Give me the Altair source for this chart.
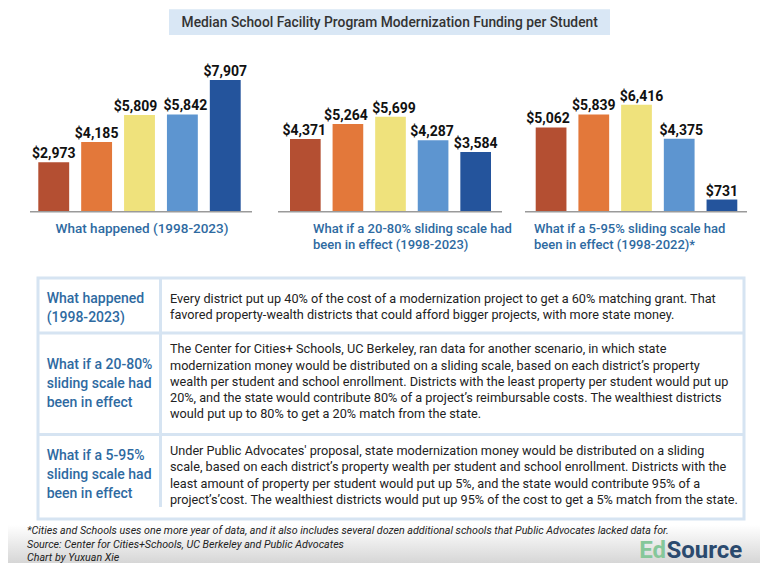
import altair as alt
import pandas as pd

# ---------------- data ----------------
quintiles = ["Q1", "Q2", "Q3", "Q4", "Q5"]
happened = [2973, 4185, 5809, 5842, 7907]
scale_20_80 = [4371, 5264, 5699, 4287, 3584]
scale_5_95 = [5062, 5839, 6416, 4375, 731]
bar_colors = ["#b44f32", "#e3783a", "#efe27c", "#5d95d0", "#24549c"]

chart_title = "Median School Facility Program Modernization Funding per Student"
panel_titles = [
    ["What happened (1998-2023)"],
    ["What if a 20-80% sliding scale had", "been in effect (1998-2023)"],
    ["What if a 5-95% sliding scale had", "been in effect (1998-2022)*"],
]
row_labels = [
    ["What happened", "(1998-2023)"],
    ["What if a 20-80%", "sliding scale had", "been in effect"],
    ["What if a 5-95%", "sliding scale had", "been in effect"],
]
row_bodies = [
    ["Every district put up 40% of the cost of a modernization project to get a 60% matching grant. That",
     "favored property-wealth districts that could afford bigger projects, with more state money."],
    ["The Center for Cities+ Schools, UC Berkeley, ran data for another scenario, in which state",
     "modernization money would be distributed on a sliding scale, based on each district\u2019s property",
     "wealth per student and school enrollment. Districts with the least property per student would put up",
     "20%, and the state would contribute 80% of a project\u2019s reimbursable costs. The wealthiest districts",
     "would put up to 80% to get a 20% match from the state."],
    ["Under Public Advocates' proposal, state modernization money would be distributed on a sliding",
     "scale, based on each district\u2019s property wealth per student and school enrollment. Districts with the",
     "least amount of property per student would put up 5%, and the state would contribute 95% of a",
     "project\u2019s\u2019cost. The wealthiest districts would put up 95% of the cost to get a 5% match from the state."],
]
footnotes = [
    "*Cities and Schools uses one more year of data, and it also includes several dozen additional schools that Public Advocates lacked data for.",
    "Source: Center for Cities+Schools, UC Berkeley and Public Advocates",
    "Chart by Yuxuan Xie",
]

# ---------------- style / layout ----------------
FONT = "Roboto, sans-serif"
BLUE_TXT = "#2e6aa1"
BORDER = "#d6e4f2"
W, H = 752, 555
Y_RANGE = [203.7, 72]
panel_ranges = [[30.3, 232.7], [282, 483], [527.7, 729.3]]
axis_spans = [[22, 244], [270, 494], [517, 739]]
title_pos = [(134, "center", 13.5), (305, "left", 13), (526, "left", 13)]
# small horizontal nudges of the value labels (as in the original, to avoid collisions)
label_nudges = [[0, 0, -4, 3, 0], [-1, -2, 3.5, -1, 0], [-3, 0, 5, 2, 0]]

one = pd.DataFrame({"k": [0]})


def deco():
    return alt.Chart(one)


def bar_panel(values, rng, nudges):
    df = pd.DataFrame({"q": quintiles, "v": values})
    base = alt.Chart(df).encode(
        x=alt.X("q:N", sort=quintiles, axis=None,
                scale=alt.Scale(range=rng, paddingInner=0.28, paddingOuter=0)),
        y=alt.Y("v:Q", axis=None, scale=alt.Scale(domain=[0, 7907], range=Y_RANGE)),
    )
    bars = base.mark_bar().encode(
        color=alt.Color("q:N", scale=alt.Scale(domain=quintiles, range=bar_colors), legend=None)
    )
    parts = [bars]
    for q, dx in zip(quintiles, nudges):
        parts.append(base.mark_text(
            baseline="alphabetic", dy=-4, dx=dx, fontSize=14, fontWeight="bold", font=FONT, color="#111111"
        ).transform_filter(alt.datum.q == q)
         .transform_calculate(lab="'$' + format(datum.v, ',')").encode(text="lab:N"))
    return alt.layer(*parts)


layers = []

# background gradient at bottom
layers.append(deco().mark_rect(
    color=alt.Gradient(gradient="linear",
                       stops=[alt.GradientStop(color="#ffffff", offset=0),
                              alt.GradientStop(color="#d6d6d6", offset=1)],
                       x1=0, x2=0, y1=0, y2=1)
).encode(x=alt.value(-10), x2=alt.value(W + 10), y=alt.value(517), y2=alt.value(H)))

# title box
layers.append(deco().mark_rect(color="#d9e7f5").encode(
    x=alt.value(161), x2=alt.value(602), y=alt.value(1.3), y2=alt.value(27)))
layers.append(deco().mark_text(
    align="center", baseline="alphabetic", fontSize=13.8, fontWeight=500, font=FONT, color="#333333"
).encode(x=alt.value(381.7), y=alt.value(19.3), text=alt.value(chart_title)))

# bar panels
for vals, rng, nd in zip([happened, scale_20_80, scale_5_95], panel_ranges, label_nudges):
    layers.append(bar_panel(vals, rng, nd))

# baselines
for a, b in axis_spans:
    layers.append(deco().mark_rule(color="#9a9a9a", strokeWidth=1.5).encode(
        x=alt.value(a), x2=alt.value(b), y=alt.value(Y_RANGE[0])))

# panel titles
for lines, (px, al, fs) in zip(panel_titles, title_pos):
    layers.append(deco().mark_text(
        align=al, baseline="alphabetic", fontSize=fs, fontWeight=500, font=FONT, color=BLUE_TXT,
        lineHeight=16.5
    ).encode(x=alt.value(px), y=alt.value(224.8), text=alt.value(lines)))

# table frame
layers.append(deco().mark_rect(fill="#ffffff", stroke=BORDER, strokeWidth=3).encode(
    x=alt.value(30), x2=alt.value(736), y=alt.value(270), y2=alt.value(511)))
for yy in [325, 426.5]:
    layers.append(deco().mark_rule(color=BORDER, strokeWidth=3).encode(
        x=alt.value(30), x2=alt.value(736), y=alt.value(yy)))
layers.append(deco().mark_rule(color=BORDER, strokeWidth=3).encode(
    x=alt.value(152.5), y=alt.value(270), y2=alt.value(499)))

label_y = [294.7, 360.7, 452]
body_y = [294.7, 345.3, 447]
for lab, body, ly, by in zip(row_labels, row_bodies, label_y, body_y):
    layers.append(deco().mark_text(
        align="left", baseline="alphabetic", fontSize=14, fontWeight=500, font=FONT,
        color=BLUE_TXT, lineHeight=19
    ).encode(x=alt.value(38.7), y=alt.value(ly), text=alt.value(lab)))
    layers.append(deco().mark_text(
        align="left", baseline="alphabetic", fontSize=12.7, font=FONT, color="#222222", lineHeight=16.3
    ).encode(x=alt.value(162), y=alt.value(by), text=alt.value(body)))

# footnotes
layers.append(deco().mark_text(
    align="left", baseline="alphabetic", fontSize=10.7, fontStyle="italic", font=FONT,
    color="#222222", lineHeight=13.5
).encode(x=alt.value(19), y=alt.value(526), text=alt.value(footnotes)))

# logo
layers.append(deco().mark_text(
    align="right", baseline="alphabetic", fontSize=24, fontWeight="bold", font=FONT, color="#86c79a"
).encode(x=alt.value(658), y=alt.value(549.7), text=alt.value("Ed")))
layers.append(deco().mark_text(
    align="left", baseline="alphabetic", fontSize=24, fontWeight="bold", font=FONT, color="#2b4a6e"
).encode(x=alt.value(658.5), y=alt.value(549.7), text=alt.value("Source")))

chart = alt.layer(*layers).resolve_scale(x="independent").properties(
    width=W, height=H,
    autosize=alt.AutoSizeParams(type="none"),
    padding=0,
    background="#ffffff",
).configure_view(stroke=None)

chart.save("out.html", embed_options={"renderer": "svg", "actions": False})
